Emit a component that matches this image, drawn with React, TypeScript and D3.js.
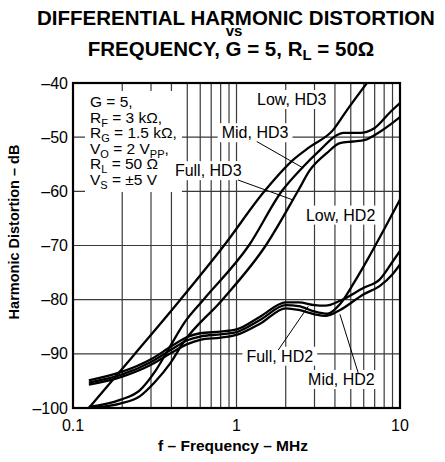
import React, { useLayoutEffect, useRef, useState } from "react";
import * as d3 from "d3";

// ---------- data ----------
const xTickValues = [0.1, 1, 10];
const xTickLabels = ["0.1", "1", "10"];
const yTickValues = [-100, -90, -80, -70, -60, -50, -40];
const yTickLabels = ["–100", "–90", "–80", "–70", "–60", "–50", "–40"];

const lowHD3Freq = [0.125, 0.236, 0.451, 0.839, 1.49, 2.22, 2.81, 3.89, 4.74, 6.28];
const lowHD3Db = [-100, -90.2, -80.1, -70, -59.9, -54.2, -51.8, -48.7, -45, -40];

const midHD3Freq = [0.125, 0.194, 0.257, 0.317, 0.381, 0.484, 0.624, 1.19, 1.9, 2.55, 3.24, 4.12, 4.5, 5.7, 7.0, 8.7, 10];
const midHD3Db = [-99.8, -98.5, -96.7, -93.3, -89.3, -84.1, -80.1, -70, -59.9, -55.5, -52.4, -49.6, -49.2, -49.2, -48.3, -45.4, -43.7];

const fullHD3Freq = [0.125, 0.194, 0.257, 0.317, 0.392, 0.471, 0.815, 1.51, 2.38, 2.81, 3.58, 4.29, 5.16, 6.11, 7.55, 10];
const fullHD3Db = [-100, -99.2, -97.8, -95.2, -91.8, -88, -80.1, -70, -59.9, -56.1, -52.9, -51.1, -50.8, -50.5, -49, -46.3];

const hd2Freq = [0.125, 0.2, 0.3, 0.4, 0.5, 0.6, 0.8, 1.0, 1.4, 2.0, 2.4, 3.0, 3.5, 4.3, 6.0, 7.5, 9.0, 10];
const fullHD2Db = [-94.9, -93.3, -91.0, -88.6, -86.9, -86.2, -85.9, -85.5, -83.1, -80.5, -80.5, -81.0, -81.1, -80.2, -77.8, -76.3, -73.0, -71.0];
const midHD2Db = [-95.7, -94.2, -92.0, -89.8, -88.2, -87.4, -87.0, -86.5, -84.4, -81.6, -81.9, -82.7, -83.0, -81.9, -79.0, -77.5, -75.3, -73.5];

const lowHD2Freq = [0.125, 0.2, 0.3, 0.4, 0.5, 0.6, 0.8, 1.0, 1.4, 2.0, 2.4, 3.0, 3.6, 4.3, 5.2, 6.3, 8.0, 10];
const lowHD2Db = [-95.3, -93.8, -91.5, -89.2, -87.5, -86.8, -86.4, -86.0, -83.7, -81.0, -81.2, -82.2, -82.6, -80.8, -77, -72.7, -67, -61.5];

const seriesNames = ["Low, HD3", "Mid, HD3", "Full, HD3", "Low, HD2", "Full, HD2", "Mid, HD2"];

// label anchors (frequency MHz, dB at text baseline)
const labelFreq = [1.335, 0.812, 0.42, 2.66, 1.15, 2.74];
const labelDb = [-44.06, -50.2, -57.2, -65.4, -91.45, -95.75];

// leader lines
const leaderNames = ["Mid, HD3", "Full, HD3", "Full, HD2", "Mid, HD2"];
const leaderFromFreq = [1.33, 1.02, 1.8, 5.56];
const leaderFromDb = [-50.8, -57.9, -89.3, -93.6];
const leaderToFreq = [2.56, 2.22, 2.75, 4.29];
const leaderToDb = [-55.7, -61.6, -81.2, -82.7];

// ---------- layout ----------
const W = 445;
const H = 462;
const PL = 73, PR = 400, PT = 83, PB = 408;
const FONT = "'Liberation Sans', Arial, Helvetica, sans-serif";

type Pt = [number, number];
type Box = { x: number; y: number; width: number; height: number };

export default function App() {
  const x = d3.scaleLog().domain([0.1, 10]).range([PL, PR]);
  const y = d3.scaleLinear().domain([-100, -40]).range([PB, PT]);

  const line = d3
    .line<Pt>()
    .x((d) => x(d[0]))
    .y((d) => y(d[1]))
    .curve(d3.curveMonotoneX);

  const series: Pt[][] = [
    lowHD3Freq.map((f, i) => [f, lowHD3Db[i]] as Pt),
    midHD3Freq.map((f, i) => [f, midHD3Db[i]] as Pt),
    fullHD3Freq.map((f, i) => [f, fullHD3Db[i]] as Pt),
    lowHD2Freq.map((f, i) => [f, lowHD2Db[i]] as Pt),
    hd2Freq.map((f, i) => [f, fullHD2Db[i]] as Pt),
    hd2Freq.map((f, i) => [f, midHD2Db[i]] as Pt),
  ];

  const vGrid = x.ticks().filter((t) => t > 0.1 && t < 10);
  const hGrid = yTickValues.filter((v) => v > -100 && v < -40);

  const labelRefs = useRef<(SVGTextElement | null)[]>([]);
  const legendRef = useRef<SVGTextElement | null>(null);
  const [boxes, setBoxes] = useState<Box[]>([]);
  const [legendBox, setLegendBox] = useState<Box | null>(null);

  useLayoutEffect(() => {
    const b = labelRefs.current.map((el) => {
      if (!el) return { x: 0, y: 0, width: 0, height: 0 };
      const r = el.getBBox();
      return { x: r.x, y: r.y, width: r.width, height: r.height };
    });
    setBoxes(b);
    if (legendRef.current) {
      const r = legendRef.current.getBBox();
      setLegendBox({ x: r.x, y: r.y, width: r.width, height: r.height });
    }
  }, []);

  const legendX = PL + 17;
  const legendY0 = PT + 24;
  const lh = 15.6;
  const sub = 11;

  return (
    <svg
      width={W}
      height={H}
      style={{ position: "absolute", left: 0, top: 0, background: "#fff" }}
      fontFamily={FONT}
    >
      <defs>
        <clipPath id="plotClip">
          <rect x={PL} y={PT} width={PR - PL} height={PB - PT} />
        </clipPath>
      </defs>
      <rect x={0} y={0} width={W} height={H} fill="#fff" />

      {/* title */}
      <g fontWeight="bold" textAnchor="middle" fill="#000">
        <text x={236} y={24.5} fontSize={20.5}>DIFFERENTIAL HARMONIC DISTORTION</text>
        <text x={234} y={36} fontSize={15}>vs</text>
        <text x={231} y={55.5} fontSize={20.5}>
          FREQUENCY, G = 5, R<tspan dy={4} fontSize={15}>L</tspan>
          <tspan dy={-4}> = 50Ω</tspan>
        </text>
      </g>

      {/* grid */}
      <g stroke="#3a3a3a" strokeWidth={1.2}>
        {vGrid.map((t) => (
          <line key={"v" + t} x1={x(t)} x2={x(t)} y1={PT} y2={PB} />
        ))}
        {hGrid.map((v) => (
          <line key={"h" + v} x1={PL} x2={PR} y1={y(v)} y2={y(v)} />
        ))}
      </g>

      {/* white label boxes */}
      <g fill="#fff">
        {boxes.map((b, i) => (
          <rect key={"b" + i} x={b.x - 4} y={b.y - 1} width={b.width + 8} height={b.height + 2} />
        ))}
        {legendBox && (
          <rect x={legendBox.x - 5} y={legendBox.y - 2} width={legendBox.width + 10} height={legendBox.height + 3} />
        )}
      </g>

      {/* curves */}
      <g clipPath="url(#plotClip)" fill="none" stroke="#000" strokeWidth={2.3} strokeLinejoin="round">
        {series.map((s, i) => (
          <path key={seriesNames[i]} d={line(s) || ""} />
        ))}
      </g>

      {/* leader lines */}
      <g stroke="#000" strokeWidth={1}>
        {leaderNames.map((n, i) => (
          <line
            key={"l" + n}
            x1={x(leaderFromFreq[i])}
            y1={y(leaderFromDb[i])}
            x2={x(leaderToFreq[i])}
            y2={y(leaderToDb[i])}
          />
        ))}
      </g>

      {/* series labels */}
      <g fontSize={16} fill="#000">
        {seriesNames.map((n, i) => (
          <text
            key={"t" + n}
            ref={(el) => {
              labelRefs.current[i] = el;
            }}
            x={x(labelFreq[i])}
            y={y(labelDb[i])}
          >
            {n}
          </text>
        ))}
      </g>

      {/* conditions */}
      <text ref={legendRef} fontSize={15.5} fill="#000">
        <tspan x={legendX} y={legendY0}>G = 5,</tspan>
        <tspan x={legendX} y={legendY0 + lh}>R</tspan>
        <tspan dy={4} fontSize={sub}>F</tspan>
        <tspan dy={-4}> = 3 kΩ,</tspan>
        <tspan x={legendX} y={legendY0 + 2 * lh}>R</tspan>
        <tspan dy={4} fontSize={sub}>G</tspan>
        <tspan dy={-4}> = 1.5 kΩ,</tspan>
        <tspan x={legendX} y={legendY0 + 3 * lh}>V</tspan>
        <tspan dy={4} fontSize={sub}>O</tspan>
        <tspan dy={-4}> = 2 V</tspan>
        <tspan dy={4} fontSize={sub}>PP</tspan>
        <tspan dy={-4}>,</tspan>
        <tspan x={legendX} y={legendY0 + 4 * lh}>R</tspan>
        <tspan dy={4} fontSize={sub}>L</tspan>
        <tspan dy={-4}> = 50 Ω</tspan>
        <tspan x={legendX} y={legendY0 + 5 * lh}>V</tspan>
        <tspan dy={4} fontSize={sub}>S</tspan>
        <tspan dy={-4}> = ±5 V</tspan>
      </text>

      {/* frame */}
      <rect x={PL} y={PT} width={PR - PL} height={PB - PT} fill="none" stroke="#000" strokeWidth={2.2} />

      {/* y ticks */}
      <g fontSize={16} textAnchor="end" fill="#000">
        {yTickValues.map((v, i) => (
          <text key={"yt" + v} x={PL - 5} y={y(v) + 5.5}>
            {yTickLabels[i]}
          </text>
        ))}
      </g>
      {/* x ticks */}
      <g fontSize={16} textAnchor="middle" fill="#000">
        {xTickValues.map((v, i) => (
          <text key={"xt" + v} x={x(v)} y={431}>
            {xTickLabels[i]}
          </text>
        ))}
      </g>

      {/* axis titles */}
      <text x={233} y={451} fontSize={15.5} fontWeight="bold" textAnchor="middle" fill="#000">
        f – Frequency – MHz
      </text>
      <text
        transform="translate(19,232) rotate(-90)"
        fontSize={14.5}
        fontWeight="bold"
        textAnchor="middle"
        fill="#000"
      >
        Harmonic Distortion – dB
      </text>
    </svg>
  );
}
